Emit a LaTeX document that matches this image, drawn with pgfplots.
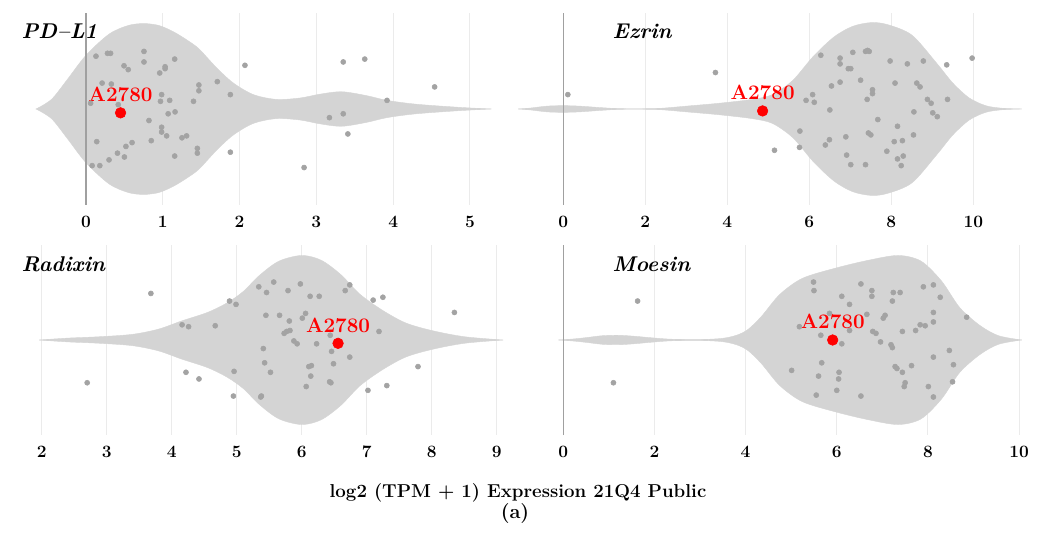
\documentclass[border=0pt]{standalone}
\usepackage{pgfplots}
\usepackage{pgfplotstable}
\pgfplotsset{compat=1.18}
\definecolor{vio}{HTML}{D4D4D4}
\definecolor{dot}{HTML}{A3A3A3}
\definecolor{grd}{HTML}{EBEBEB}
\definecolor{zero}{HTML}{A0A0A0}

\pgfplotsset{
  violinax/.style={
    scale only axis, anchor=south west,
    ymin=-1, ymax=1, ytick=\empty,
    axis line style={draw=none},
    major tick length=0pt,
    xmajorgrids, grid style={grd, line width=0.8pt},
    xticklabel style={font=\fontsize{13}{15}\selectfont\bfseries, anchor=center, yshift=-12.5pt},
    /pgf/number format/assume math mode=true,
  },
  half/.style={fill=vio, draw=vio, line width=0.3pt, smooth},
  pts/.style={only marks, mark=*, mark size=1.9pt, color=dot},
  redpt/.style={only marks, mark=*, mark size=4pt, color=red},
}
\newcommand{\lbl}{\fontsize{15.5}{17}\selectfont\bfseries}
\newcommand{\ttl}{\fontsize{16}{18}\selectfont\bfseries\itshape}

% violin outlines: x, half width
\pgfplotstableread{
x w
-0.65 0
-0.45 0.1
-0.25 0.3
0 0.56
0.3 0.78
0.55 0.87
0.75 0.89
0.95 0.87
1.15 0.8
1.35 0.7
1.48 0.62
1.7 0.43
1.92 0.27
2.18 0.15
2.48 0.10
2.79 0.115
3.05 0.155
3.33 0.18
3.65 0.14
3.92 0.09
4.3 0.05
4.87 0.017
5.28 0
}\pdlone
\pgfplotstableread{
x w
-1.1 0
-0.8 0.01
-0.4 0.03
0 0.035
0.4 0.03
0.8 0.018
1.2 0.007
1.6 0.002
2.0 0.003
2.4 0.008
3.0 0.03
3.8 0.06
4.6 0.1
5.1 0.15
5.6 0.3
6.1 0.55
6.6 0.75
7.05 0.86
7.5 0.9
7.9 0.88
8.5 0.77
9.1 0.48
9.5 0.27
9.9 0.115
10.3 0.035
10.7 0.008
11.18 0
}\ezrin
\pgfplotstableread{
x w
1.96 0
2.4 0.02
2.9 0.035
3.4 0.06
3.8 0.115
4.15 0.2
4.55 0.29
4.85 0.39
5.1 0.51
5.35 0.68
5.65 0.83
6.0 0.89
6.3 0.84
6.6 0.69
6.9 0.48
7.25 0.31
7.6 0.18
8.0 0.1
8.5 0.035
9.1 0
}\radixin
\pgfplotstableread{
x w
-0.11 0
0.2 0.01
0.5 0.025
0.85 0.045
1.2 0.05
1.55 0.04
1.9 0.025
2.3 0.01
2.7 0.005
3.1 0.006
3.5 0.018
3.8 0.05
4.05 0.11
4.35 0.25
4.75 0.48
5.25 0.65
6.0 0.76
6.7 0.84
7.35 0.89
7.85 0.83
8.3 0.62
8.7 0.34
9.15 0.15
9.55 0.045
10.06 0
}\moesin

\begin{document}
\begin{tikzpicture}
\path[use as bounding box] (0pt,0pt) rectangle (780.75pt,404.25pt);

% PD-L1
\begin{axis}[violinax, at={(21.3pt,250.5pt)}, width=354.2pt, height=144pt,
  xmin=-0.75, xmax=5.4, xtick={0,1,2,3,4,5}]
  \addplot[half] table[x=x, y=w] {\pdlone} \closedcycle;
  \addplot[half] table[x=x, y expr=-\thisrow{w}] {\pdlone} \closedcycle;
  \addplot[zero, line width=0.9pt] coordinates {(0,-1) (0,1)};
  \addplot[pts] coordinates {
    (0.13,0.55) (0.28,0.58) (0.32,0.58) (0.755,0.60) (0.755,0.49) (1.155,0.52)
    (0.495,0.45) (0.55,0.41) (1.03,0.44) (1.03,0.42) (0.96,0.375) (2.07,0.455)
    (3.35,0.49) (3.63,0.52) (0.21,0.27) (0.33,0.26) (1.47,0.25) (1.47,0.19)
    (1.71,0.285) (4.54,0.23) (0.06,0.06) (0.42,0.045) (0.985,0.15) (0.97,0.08)
    (1.09,0.09) (1.40,0.08) (1.88,0.15) (3.92,0.09) (1.07,-0.05) (1.16,-0.03)
    (0.82,-0.12) (3.17,-0.09) (3.35,-0.05) (0.985,-0.19) (0.985,-0.24) (1.05,-0.28)
    (3.41,-0.26) (0.14,-0.34) (0.52,-0.39) (0.60,-0.35) (0.85,-0.33) (1.25,-0.30)
    (1.31,-0.28) (1.45,-0.41) (1.45,-0.46) (1.88,-0.45) (0.41,-0.46) (0.50,-0.50)
    (1.155,-0.49) (0.30,-0.53) (0.08,-0.59) (0.18,-0.59) (2.84,-0.61)
  };
  \addplot[redpt] coordinates {(0.45,-0.04)};
  \node[anchor=base, text=red, font=\lbl, yshift=8.8pt] at (axis cs:0.45,-0.04) {A2780};
\end{axis}

% Ezrin
\begin{axis}[violinax, at={(388.65pt,250.5pt)}, width=379.8pt, height=144pt,
  xmin=-1.1, xmax=11.25, xtick={0,2,4,6,8,10}]
  \addplot[half] table[x=x, y=w] {\ezrin} \closedcycle;
  \addplot[half] table[x=x, y expr=-\thisrow{w}] {\ezrin} \closedcycle;
  \addplot[zero, line width=0.9pt] coordinates {(0,-1) (0,1)};
  \addplot[pts] coordinates {
    (0.11,0.15) (3.71,0.38) (5.15,-0.43) (5.76,-0.40) (5.77,-0.23) (5.92,0.09)
    (6.08,0.15) (6.12,0.07) (6.28,0.56) (6.50,-0.01) (6.54,0.24) (6.75,0.53)
    (6.75,0.47) (6.75,0.28) (6.95,0.42) (7.01,0.42) (7.06,0.59) (7.25,0.30)
    (7.37,0.60) (7.42,0.61) (7.46,0.60) (7.41,0.10) (7.54,0.20) (7.54,0.16)
    (7.67,-0.11) (7.97,0.50) (8.09,0.27) (8.15,-0.18) (8.39,0.47) (8.55,-0.03)
    (8.62,0.27) (8.70,0.23) (8.78,0.50) (8.88,0.10) (8.97,0.06) (9.01,-0.04)
    (9.12,-0.08) (9.35,0.46) (9.37,0.10) (9.97,0.53) (6.89,-0.29) (6.49,-0.32)
    (6.39,-0.375) (6.91,-0.48) (7.01,-0.58) (7.37,-0.58) (7.44,-0.25) (7.50,-0.27)
    (7.89,-0.44) (8.07,-0.34) (8.15,-0.52) (8.27,-0.33) (8.29,-0.49) (8.24,-0.59)
    (8.54,-0.27)
  };
  \addplot[redpt] coordinates {(4.86,-0.02)};
  \node[anchor=base, text=red, font=\lbl, yshift=8.8pt] at (axis cs:4.86,-0.02) {A2780};
\end{axis}

% Radixin
\begin{axis}[violinax, at={(21.525pt,78pt)}, width=356.8pt, height=142.5pt,
  xmin=1.8, xmax=9.12, xtick={2,3,4,5,6,7,8,9}]
  \addplot[half] table[x=x, y=w] {\radixin} \closedcycle;
  \addplot[half] table[x=x, y expr=-\thisrow{w}] {\radixin} \closedcycle;
  \addplot[pts] coordinates {
    (3.68,0.49) (2.70,-0.45) (4.16,0.16) (4.26,0.14) (4.22,-0.34) (4.42,-0.41)
    (4.67,0.15) (4.89,0.41) (4.99,0.375) (4.96,-0.33) (4.95,-0.59) (5.34,0.56)
    (5.46,0.50) (5.45,0.26) (5.41,-0.09) (5.43,-0.24) (5.38,-0.59) (5.37,-0.60)
    (5.52,-0.34) (5.57,0.61) (5.66,0.26) (5.73,0.07) (5.77,0.09) (5.82,0.10)
    (5.81,0.20) (5.79,0.52) (5.88,-0.01) (5.93,-0.04) (5.98,0.59) (6.01,0.23)
    (6.06,0.28) (6.07,-0.49) (6.13,0.46) (6.11,-0.28) (6.15,-0.27) (6.14,-0.38)
    (6.23,-0.04) (6.27,0.46) (6.44,0.05) (6.46,-0.12) (6.49,-0.25) (6.43,-0.44)
    (6.45,-0.45) (6.67,0.52) (6.74,0.58) (6.74,-0.18) (7.02,-0.53) (7.10,0.42)
    (7.19,0.09) (7.25,0.45) (7.31,-0.48) (7.79,-0.28) (8.35,0.29)
  };
  \addplot[redpt] coordinates {(6.56,-0.035)};
  \node[anchor=base, text=red, font=\lbl, yshift=8.3pt] at (axis cs:6.56,-0.035) {A2780};
\end{axis}

% Moesin
\begin{axis}[violinax, at={(390pt,78pt)}, width=378.4pt, height=142.5pt,
  xmin=-0.95, xmax=10.12, xtick={0,2,4,6,8,10}]
  \addplot[half] table[x=x, y=w] {\moesin} \closedcycle;
  \addplot[half] table[x=x, y expr=-\thisrow{w}] {\moesin} \closedcycle;
  \addplot[zero, line width=0.9pt] coordinates {(0,-1) (0,1)};
  \addplot[pts] coordinates {
    (1.63,0.41) (1.10,-0.45) (5.01,-0.32) (5.49,0.61) (5.50,0.52) (5.18,0.14)
    (5.65,0.05) (5.67,-0.24) (5.60,-0.38) (5.55,-0.58) (5.84,0.28) (6.05,-0.34)
    (6.04,-0.41) (6.00,-0.53) (6.11,0.46) (6.11,-0.04) (6.28,0.375) (6.28,0.10)
    (6.53,0.59) (6.53,-0.59) (6.66,0.27) (6.77,0.52) (6.77,0.46) (6.79,0.09)
    (6.86,0.07) (6.96,-0.02) (7.02,0.23) (7.06,0.26) (7.19,-0.05) (7.22,-0.08)
    (7.22,0.41) (7.24,0.50) (7.39,0.50) (7.28,-0.28) (7.32,-0.30) (7.44,0.09)
    (7.44,-0.34) (7.50,-0.45) (7.48,-0.49) (7.64,-0.27) (7.73,0.10) (7.83,0.16)
    (7.90,0.56) (7.94,0.15) (8.01,-0.49) (8.12,0.58) (8.12,0.29) (8.12,0.19)
    (8.12,-0.18) (8.12,-0.60) (8.27,0.45) (8.47,-0.11) (8.56,-0.26) (8.54,-0.44)
    (8.85,0.24)
  };
  \addplot[redpt] coordinates {(5.91,0)};
  \node[anchor=base, text=red, font=\lbl, yshift=8.3pt] at (axis cs:5.91,0) {A2780};
\end{axis}

\node[anchor=base west, font=\ttl] at (12.75pt,375pt) {PD--L1};
\node[anchor=base west, font=\ttl] at (456pt,375pt) {Ezrin};
\node[anchor=base west, font=\ttl] at (12.75pt,200.25pt) {Radixin};
\node[anchor=base west, font=\ttl] at (456pt,200.25pt) {Moesin};

\node[anchor=base, font=\fontsize{14}{17}\selectfont\bfseries] at (388.5pt,31.5pt) {log2 (TPM + 1) Expression 21Q4 Public};
\node[anchor=base, font=\fontsize{15}{17}\selectfont\bfseries] at (386.25pt,15.75pt) {(a)};
\end{tikzpicture}
\end{document}
